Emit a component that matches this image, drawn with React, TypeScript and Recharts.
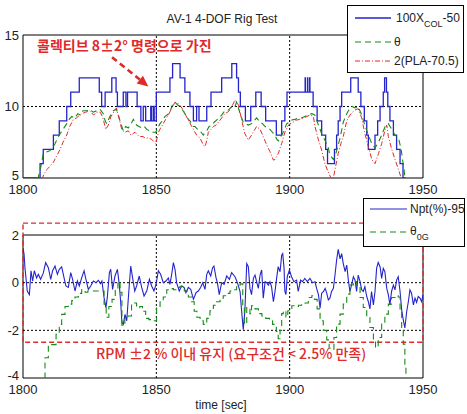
import React from "react";
import { LineChart, Line, XAxis, YAxis, ReferenceLine, ReferenceArea } from "recharts";

type Pt = [number, number];

const timeTicks = [1800, 1850, 1900, 1950];
const upperTicks = [5, 10, 15];
const lowerTicks = [-4, -2, 0, 2];

// 100 X_col - 50 (stepped command)
const collective: Pt[] = [
  [1800, 5], [1806.4, 6], [1807.6, 7], [1811.4, 8], [1813.6, 9], [1816.4, 10], [1817.9, 11],
  [1821.1, 12], [1828.6, 11], [1829.5, 10], [1830.8, 11], [1833.3, 12], [1834.9, 11], [1835.4, 10],
  [1837.6, 11], [1838.6, 10], [1839.2, 11], [1842.8, 10], [1844.2, 9], [1845.1, 10], [1846, 9],
  [1847.9, 10], [1848.2, 9], [1848.9, 10], [1849.2, 9], [1850, 11], [1855.1, 12], [1856.1, 13],
  [1858.9, 12], [1860.7, 11], [1862.6, 10], [1863.9, 9], [1865.1, 10], [1866, 9], [1868.9, 10],
  [1870.5, 11], [1874.5, 12], [1878.3, 13], [1880.1, 12], [1880.8, 11], [1881.5, 10], [1883.4, 9],
  [1885.4, 10], [1887.3, 11], [1889.3, 10], [1891, 9], [1895, 8], [1897, 9], [1898.2, 10],
  [1899, 11], [1905.8, 12], [1905.9, 11], [1906.7, 12], [1906.8, 11], [1907.5, 12], [1907.6, 11],
  [1908.8, 10], [1910.3, 9], [1912, 8], [1913.5, 7], [1914.2, 6], [1916.8, 7], [1917.6, 8],
  [1918.2, 9], [1918.9, 10], [1919.5, 11], [1922.9, 12], [1925.7, 11], [1926.7, 10], [1928, 9],
  [1928.9, 8], [1929.5, 7], [1932, 8], [1933, 9], [1933.9, 10], [1935.1, 11], [1935.6, 12],
  [1936.3, 11], [1936.8, 10], [1937.6, 9], [1938.9, 8], [1940.1, 7], [1941.4, 6], [1942.5, 5],
  [1943.5, 5],
];

const theta: Pt[] = [
  [1805.5, 4.9], [1806.5, 5.6], [1807.6, 6.7], [1808.5, 6.8], [1810, 6.9], [1811, 7.1], [1812, 7.4],
  [1813, 7.8], [1813.9, 8.1], [1815, 8.4], [1816.4, 8.8], [1817.3, 9.1], [1818.3, 9.3], [1819.5, 9.2],
  [1820.5, 9.5], [1821.4, 9.4], [1822.5, 9.7], [1823.9, 9.7], [1825, 9.8], [1826.3, 9.6], [1827.6, 9.7],
  [1828.9, 9.8], [1830.1, 9.5], [1830.8, 9.0], [1831.4, 8.8], [1832.6, 9.3], [1833.9, 9.7], [1835.1, 9.8],
  [1836.4, 9.0], [1837.6, 8.3], [1838.5, 8.6], [1839.5, 8.5], [1840.8, 8.9], [1841.4, 9.1], [1842.6, 8.7],
  [1843.5, 8.6], [1844.5, 8.5], [1845.5, 8.6], [1846.4, 8.4], [1847.4, 8.3], [1848.3, 8.2], [1849.8, 8.2],
  [1850.8, 8.6], [1851.4, 8.8], [1852.6, 9.1], [1853.2, 9.3], [1854, 9.4], [1855.1, 9.6], [1856, 10.1],
  [1857, 10.3], [1858, 10.1], [1858.9, 10.0], [1860, 9.7], [1860.7, 9.5], [1862, 9.1], [1862.6, 9.0],
  [1863.9, 8.6], [1864.5, 8.6], [1865.5, 8.4], [1866.4, 8.3], [1867.6, 8.0], [1868.3, 8.2], [1868.9, 8.3],
  [1869.8, 8.6], [1870.8, 8.7], [1871.7, 8.9], [1872.6, 9.05], [1873.5, 9.2], [1874.5, 9.4], [1875.7, 9.7],
  [1877, 9.75], [1878.3, 10.0], [1879.3, 9.9], [1880.1, 10.3], [1880.6, 10.0], [1881.4, 9.5], [1882.6, 8.9],
  [1883.5, 8.8], [1884.5, 8.7], [1885.7, 8.8], [1886.6, 9.0], [1887.6, 9.2], [1888.9, 8.9], [1889.8, 8.8],
  [1890.8, 8.6], [1891.7, 8.5], [1892.6, 8.4], [1893.5, 8.2], [1894.5, 8.0], [1895.2, 7.7], [1895.7, 7.6],
  [1896.4, 7.8], [1897.6, 8.2], [1898.9, 8.8], [1900, 8.9], [1900.8, 9.05], [1902, 9.1], [1903.2, 9.2],
  [1904.4, 9.2], [1905.7, 9.3], [1907, 9.4], [1908.3, 9.5], [1909.5, 9.4], [1910.2, 9.0], [1910.8, 8.7],
  [1912, 8.1], [1913.2, 7.65], [1914.5, 7.1], [1915.1, 6.6], [1916.4, 6.3], [1917, 6.5], [1917.6, 6.9],
  [1918.9, 7.8], [1920.1, 8.9], [1921.4, 9.5], [1922.6, 9.9], [1923.5, 10.0], [1924.5, 9.9], [1925.7, 10.0],
  [1927, 9.4], [1928.2, 8.7], [1929.5, 8.0], [1930.8, 7.4], [1932, 7.1], [1933.3, 7.5], [1934.5, 8.0],
  [1935.8, 8.6], [1937, 8.8], [1938.3, 8.4], [1939.5, 8.0], [1940.8, 7.8], [1941.8, 7.0], [1942.7, 5.8],
  [1943.3, 5.0], [1943.6, 4.5],
];

// 2(PLA - 70.5)
const pla: Pt[] = [
  [1807, 4.9], [1808, 5.3], [1809, 5.6], [1810, 5.8], [1811.4, 6.1], [1812.5, 6.5], [1813.9, 7.0],
  [1815, 7.5], [1816.4, 8.0], [1817.5, 8.6], [1818.9, 9.1], [1820, 9.2], [1820.7, 9.3], [1822, 9.5],
  [1823.5, 9.6], [1825, 9.7], [1826.5, 9.4], [1827.5, 9.6], [1829, 9.6], [1830, 9.2], [1831, 8.4],
  [1832, 8.7], [1833, 9.3], [1834, 9.6], [1835, 9.9], [1836, 9.2], [1837, 8.4], [1838.2, 8.2],
  [1839.5, 8.3], [1840.5, 8.0], [1842, 8.2], [1843, 8.0], [1843.9, 7.9], [1845, 7.9], [1845.7, 7.8],
  [1847, 7.8], [1848.3, 7.7], [1849.3, 7.5], [1849.8, 7.4], [1850.8, 8.2], [1851.6, 8.5], [1852.6, 8.8],
  [1853.5, 9.1], [1854.5, 9.4], [1855.8, 9.9], [1857, 10.3], [1858.3, 10.2], [1859.2, 10.0], [1860.1, 9.75],
  [1861, 9.4], [1862, 9.05], [1863, 8.7], [1863.9, 8.4], [1865.1, 8.0], [1866.4, 7.8], [1867.6, 7.3],
  [1868.3, 7.2], [1869, 7.7], [1869.5, 8.2], [1870.5, 8.4], [1871.4, 8.6], [1872.4, 8.7], [1873.3, 8.9],
  [1874.5, 9.2], [1875.7, 9.5], [1876.7, 9.6], [1877.6, 9.75], [1878.6, 10.1], [1879.5, 10.45], [1880.8, 10.1],
  [1882, 9.05], [1883.2, 8.1], [1884.5, 7.65], [1885.7, 8.0], [1886.6, 8.3], [1887.6, 8.6], [1888.9, 8.4],
  [1890.1, 7.9], [1891.4, 7.3], [1892.6, 6.85], [1893.9, 6.25], [1894.5, 6.3], [1895.7, 6.7], [1897, 7.4],
  [1898.2, 8.2], [1899.2, 8.6], [1900.1, 8.8], [1901.3, 8.9], [1902.6, 9.05], [1903.8, 9.1], [1905.1, 9.2],
  [1906.4, 9.3], [1907.6, 9.4], [1908.9, 9.3], [1909.5, 8.6], [1910.8, 7.65], [1912, 6.95], [1913.2, 6.0],
  [1914.5, 5.4], [1915.5, 5.0], [1916.3, 4.9], [1917, 5.6], [1918.2, 6.7], [1919.2, 7.4], [1920.1, 7.9],
  [1921.4, 9.0], [1922.6, 9.4], [1923.5, 9.6], [1924.5, 9.75], [1925.7, 9.85], [1927, 9.2], [1928.2, 8.1],
  [1929.5, 7.2], [1930.8, 6.3], [1932, 6.0], [1933.3, 6.7], [1934.5, 7.4], [1935.8, 8.4], [1936.4, 8.7],
  [1937, 7.9], [1938.3, 7.0], [1939.5, 6.3], [1940.8, 5.6], [1941.8, 5.0], [1942.5, 4.5],
];

// Npt(%) - 95
const npt: Pt[] = [
  [1800, 1.45], [1800.4, 1.2], [1800.75, 0.6], [1801.6, -0.35], [1802.4, -0.5], [1803, 0.5], [1803.6, 0.07],
  [1804.25, 0.5], [1805.1, 0.2], [1805.75, 0.35], [1806.6, 0.14], [1807.6, 0.4], [1808.5, 0.84], [1809.5, 0.63],
  [1810.4, 0.14], [1811.1, 0.5], [1812, 0.7], [1812.9, 0.35], [1813.6, 0.56], [1814.5, 0.66], [1815.4, 0.2],
  [1816.1, -0.14], [1817, -0.2], [1817.9, 0.42], [1818.6, 0.14], [1819.5, -0.35], [1820.4, 0.07], [1821.1, -0.14],
  [1822, 0.2], [1822.9, 0.5], [1823.6, 0.14], [1824.5, -0.28], [1825.4, -0.14], [1826.4, 0.07], [1827.4, 0],
  [1828.25, 0.1], [1829.1, -0.04], [1829.6, 0.07], [1830.4, -0.63], [1831.1, -1.05], [1831.6, -0.63], [1832.4, 0.42],
  [1832.9, 0.56], [1833.6, -0.28], [1834.5, 0.28], [1835.4, 0.56], [1836.1, -0.07], [1836.6, -0.77], [1837.1, -1.68],
  [1837.6, -1.75], [1838.25, -1.33], [1838.9, -1.6], [1839.6, -0.5], [1840.4, 0.7], [1841.1, 0.2], [1841.9, -0.35],
  [1842.6, -0.14], [1843.6, 0.28], [1844.5, -0.2], [1845.4, -0.56], [1846.4, -0.35], [1847.4, 0.14], [1848.25, -0.14],
  [1849.1, -0.35], [1849.9, -0.07], [1850.75, 0.5], [1851.6, 0.35], [1852.6, 0], [1853.6, 0.07], [1854.5, 0.2],
  [1855.1, -0.07], [1855.75, 0.35], [1856.4, 0.84], [1857, 0.56], [1857.6, 0], [1858.6, -0.35], [1859.5, -0.14],
  [1860.4, -0.2], [1861.1, -0.42], [1862, -0.2], [1862.9, -0.28], [1863.9, -0.7], [1864.9, -0.42], [1865.75, -0.35],
  [1866.6, -0.2], [1867.4, 0], [1868.25, -0.28], [1868.9, 0.35], [1869.5, 0.5], [1870.4, 0.28], [1871.1, 0.63],
  [1871.6, 0.7], [1872.4, 0.2], [1872.9, 0], [1873.6, -0.5], [1874.5, 0], [1875.4, -0.07], [1876.4, 0.28],
  [1877.4, 0.14], [1878.25, 0.42], [1879.5, 0.25], [1880.4, 0], [1881.4, -0.37], [1882, -1.2], [1882.6, -1.97],
  [1883.2, -1.2], [1883.9, 0.8], [1884.5, 0.67], [1885.1, -0.24], [1885.7, -0.5], [1886.4, 0.18], [1887, 0.32],
  [1887.6, 0.04], [1888.25, -0.24], [1888.9, 0.32], [1889.5, 0.53], [1890.1, -0.65], [1890.8, 0.04], [1891.4, 0],
  [1892, -0.1], [1892.6, 0.04], [1893.2, -0.17], [1893.9, -0.8], [1894.5, -0.37], [1895.1, 0.18], [1895.7, 0.67],
  [1896.4, 0.46], [1897, 1.15], [1897.4, 1.22], [1897.9, 0.6], [1898.2, -0.37], [1898.6, -0.5], [1899.1, 0.25],
  [1899.9, 0.53], [1900.7, 0.25], [1901.6, 0.04], [1902.6, 0.11], [1903.2, -0.37], [1904.1, 0.11], [1904.8, 0.04],
  [1905.7, 0.18], [1906.6, 0.04], [1907.6, 0.18], [1908.6, 0], [1909.5, 0.04], [1910.1, -0.24], [1910.8, -0.5],
  [1911.4, -1.07], [1912, -0.44], [1912.7, -0.37], [1913.3, -0.24], [1913.9, -0.44], [1914.5, -0.72], [1915.1, -0.65],
  [1915.7, -0.37], [1916.4, -0.24], [1917, 0.32], [1917.6, 0.94], [1918.2, 1.4], [1918.9, 1.0], [1919.5, 1.22],
  [1920.1, 0.8], [1920.8, 0.46], [1921.4, 0.74], [1922, 0.11], [1922.6, -0.37], [1923.2, -0.1], [1923.9, 0.25],
  [1924.5, 0.11], [1925.1, -0.37], [1925.7, 0.32], [1926.4, 0.04], [1927, -0.3], [1927.6, -0.37], [1928.2, -0.17],
  [1928.9, -0.58], [1929.5, -0.8], [1930.1, -1.1], [1930.7, -0.37], [1931.4, -0.93], [1932, -0.37], [1932.6, 0.6],
  [1933.2, 0.85], [1933.9, 0.67], [1934.5, 0.18], [1935.1, 0.6], [1935.7, 0.46], [1936.4, -0.24], [1937, -0.5],
  [1937.6, -0.93], [1938.2, -0.37], [1938.9, -0.1], [1939.5, -0.3], [1940.1, 0.11], [1940.7, 0.25], [1941.4, -0.37],
  [1942, -1.14], [1942.6, -1.56], [1943.2, -1.9], [1943.9, -1.2], [1944.5, -0.8], [1945.1, -0.3], [1945.7, -0.44],
  [1946.4, -0.93], [1947, -0.65], [1947.6, -0.83], [1948.2, -0.58], [1948.9, -0.65], [1949.5, -0.8], [1950, -0.5],
];

const theta0g: Pt[] = [
  [1807, -4.3], [1807.4, -4.0], [1808.25, -3.15], [1809.5, -2.6], [1811.4, -2.6], [1812.4, -2.17], [1813.6, -1.75],
  [1814.5, -1.33], [1815.75, -1.0], [1817, -0.9], [1818.3, -0.75], [1819.5, -0.6], [1820.8, -0.45], [1822, -0.3],
  [1823.3, -0.4], [1824.3, -0.35], [1829.6, -0.35], [1830.4, -0.9], [1831.2, -1.45], [1832.2, -1.0], [1833.4, -0.7],
  [1834.6, -0.3], [1835.6, 0.05], [1836.4, -0.4], [1837.1, -1.8], [1838.2, -1.5], [1839.4, -1.4], [1840.7, -0.9],
  [1841.8, -0.85], [1842.6, -1.05], [1843.8, -1.0], [1844.8, -1.2], [1846, -1.5], [1847.2, -1.55], [1848.4, -1.6],
  [1850.1, -1.05], [1851.4, -0.8], [1852.6, -0.6], [1853.9, -0.3], [1855.1, -0.25], [1856.4, -0.3], [1857.6, -0.2],
  [1858.9, -0.15], [1860.5, -0.35], [1862, -0.6], [1863.2, -0.8], [1864.2, -1.2], [1865.2, -1.45], [1866.4, -1.6],
  [1867.6, -1.75], [1868.9, -1.5], [1870.1, -1.18], [1871.4, -0.95], [1872.6, -0.8], [1873.9, -0.65], [1875.1, -0.55],
  [1876.4, -0.45], [1877.6, -0.35], [1878.9, -0.3], [1880.1, -0.15], [1881.4, -0.05], [1882.4, -1.0], [1883, -1.74],
  [1883.9, -1.04], [1885.1, -1.3], [1885.7, -0.97], [1887, -1.1], [1888.3, -1.3], [1889.6, -1.4], [1891, -1.5],
  [1892.4, -1.6], [1893.6, -1.75], [1895, -2.05], [1895.7, -2.35], [1896.4, -2.0], [1897, -1.3], [1897.6, -1.18],
  [1898.6, -1.45], [1899.3, -1.18], [1900.8, -0.97], [1902, -1.0], [1903.3, -0.95], [1904.5, -0.9], [1905.8, -0.85],
  [1907, -0.62], [1908.3, -0.55], [1909.3, -0.7], [1910.3, -1.1], [1911.4, -1.6], [1912.6, -2.0], [1913.9, -2.4],
  [1914.8, -2.75], [1915.8, -2.8], [1916.6, -2.3], [1917.6, -1.74], [1918.9, -1.32], [1920.1, -0.9], [1921.4, -0.48],
  [1922.6, -0.1], [1923.9, 0.05], [1925.1, -0.1], [1926.4, -0.62], [1927.6, -1.04], [1928.9, -1.46], [1930.1, -1.88],
  [1931.4, -2.44], [1932.2, -2.72], [1933.2, -2.3], [1934.5, -1.74], [1935.7, -1.32], [1937, -0.9], [1938.2, -0.62],
  [1939.5, -0.55], [1940.7, -0.6], [1941.4, -1.18], [1942, -1.88], [1942.6, -2.58], [1943.2, -3.42], [1943.6, -4.3],
];

const rows = (pts: Pt[]) => pts.map(([t, v]) => ({ t, v }));

const BLUE = "#2424cc";
const GREEN = "#168a16";
const RED = "#e02a2a";
const FONT = "'Liberation Sans', Arial, Helvetica, sans-serif";
const KFONT = "'Noto Sans CJK KR', 'Noto Sans', sans-serif";

const tickStyle = { fontSize: 13, fill: "#222", fontFamily: FONT };
const gridProps = { stroke: "#000", strokeDasharray: "2 2", strokeWidth: 1 };

// y tick: the lowest label sits a little higher so it clears the time labels
function makeYTick(lowest: number) {
  return function YTick(props: any) {
    const { x, y, payload } = props;
    const lift = payload.value === lowest ? -3 : 0;
    return (
      <text x={x} y={y + lift} dy="0.355em" textAnchor="end" fontSize={13} fill="#222" fontFamily={FONT}>
        {payload.value}
      </text>
    );
  };
}

function Arrow(props: any) {
  const { x1, y1, x2, y2 } = props;
  const a = Math.atan2(y2 - y1, x2 - x1);
  const bx = x2 - 11 * Math.cos(a);
  const by = y2 - 11 * Math.sin(a);
  const px = -Math.sin(a) * 5;
  const py = Math.cos(a) * 5;
  return (
    <g>
      <line x1={x1} y1={y1} x2={bx} y2={by} stroke={RED} strokeWidth={2.6} strokeDasharray="6 4" />
      <polygon points={`${x2},${y2} ${bx + px},${by + py} ${bx - px},${by - py}`} fill={RED} />
    </g>
  );
}

function Upper() {
  return (
    <LineChart width={467} height={200} margin={{ top: 35, right: 44, bottom: 2, left: 0 }}>
      <XAxis type="number" dataKey="t" domain={[1800, 1950]} ticks={timeTicks} interval={0} allowDataOverflow
        axisLine={false} tickLine={false} tickSize={0} tickMargin={7} height={20} tick={tickStyle} />
      <YAxis type="number" domain={[5, 15]} ticks={upperTicks} interval={0} allowDataOverflow
        axisLine={false} tickLine={false} tickSize={0} tickMargin={4} width={23} tick={makeYTick(5)} />
      <ReferenceLine x={1850} {...gridProps} />
      <ReferenceLine x={1900} {...gridProps} />
      <ReferenceLine y={10} {...gridProps} />
      <Line data={rows(collective)} dataKey="v" type="stepAfter" stroke={BLUE} strokeWidth={1.3}
        dot={false} isAnimationActive={false} />
      <Line data={rows(theta)} dataKey="v" type="linear" stroke={GREEN} strokeWidth={1.1}
        strokeDasharray="6 4" dot={false} isAnimationActive={false} />
      <Line data={rows(pla)} dataKey="v" type="linear" stroke={RED} strokeWidth={1}
        strokeDasharray="5 2 1 2" dot={false} isAnimationActive={false} />
      <ReferenceArea x1={1800} x2={1950} y1={5} y2={15} fill="none" stroke="#000" strokeWidth={1} ifOverflow="visible" />
      <ReferenceLine segment={[{ x: 1833.4, y: 13.45 }, { x: 1847, y: 11.4 }]} shape={Arrow} />
    </LineChart>
  );
}

function Lower() {
  return (
    <LineChart width={467} height={214} margin={{ top: 35, right: 44, bottom: 16, left: 0 }}>
      <XAxis type="number" dataKey="t" domain={[1800, 1950]} ticks={timeTicks} interval={0} allowDataOverflow
        axisLine={false} tickLine={false} tickSize={0} tickMargin={7} height={20} tick={tickStyle} />
      <YAxis type="number" domain={[-4, 2]} ticks={lowerTicks} interval={0} allowDataOverflow
        axisLine={false} tickLine={false} tickSize={0} tickMargin={4} width={23} tick={makeYTick(-4)} />
      <ReferenceLine x={1850} {...gridProps} />
      <ReferenceLine x={1900} {...gridProps} />
      <ReferenceLine y={0} {...gridProps} />
      <ReferenceLine y={-2} {...gridProps} />
      <Line data={rows(npt)} dataKey="v" type="linear" stroke={BLUE} strokeWidth={1.1}
        dot={false} isAnimationActive={false} />
      <Line data={rows(theta0g)} dataKey="v" type="stepAfter" stroke={GREEN} strokeWidth={1.1}
        strokeDasharray="6 4" dot={false} isAnimationActive={false} />
      <ReferenceArea x1={1800} x2={1950} y1={-4} y2={2} fill="none" stroke="#000" strokeWidth={1} ifOverflow="visible" />
      <ReferenceArea x1={1800} x2={1950} y1={-2.5} y2={2.5} fill="none" stroke={RED} strokeWidth={1.4}
        strokeDasharray="5 3" ifOverflow="visible" />
    </LineChart>
  );
}

export default function App() {
  return (
    <div style={{ position: "absolute", left: 0, top: 0, width: 467, height: 414, background: "#fff" }}>
      <div style={{ position: "absolute", left: 0, top: 0 }}>
        <Upper />
      </div>
      <div style={{ position: "absolute", left: 0, top: 200 }}>
        <Lower />
      </div>
      <svg width={467} height={414} style={{ position: "absolute", left: 0, top: 0, pointerEvents: "none" }}>
        <text x={222} y={23} textAnchor="middle" fontFamily={FONT} fontSize={12} fill="#222">AV-1 4-DOF Rig Test</text>
        <text x={37} y={51} fontFamily={KFONT} fontSize={14} fontWeight={700} fill={RED}>콜렉티브 8±2° 명령으로 가진</text>
        <text x={96} y={359} fontFamily={KFONT} fontSize={14} fontWeight={500} fill={RED}>RPM ±2 % 이내 유지 (요구조건 &lt; 2.5% 만족)</text>
        <text x={221} y={409} textAnchor="middle" fontFamily={FONT} fontSize={12} fill="#222">time [sec]</text>

        <rect x={347.5} y={5.5} width={116} height={67} fill="#fff" stroke="#000" />
        <line x1={355} y1={18} x2={391} y2={18} stroke={BLUE} strokeWidth={1.3} />
        <text x={396} y={22} fontFamily={FONT} fontSize={12} fill="#222">
          100X<tspan dy={5} fontSize={9}>COL</tspan><tspan dy={-5}>-50</tspan>
        </text>
        <line x1={355} y1={42} x2={391} y2={42} stroke={GREEN} strokeWidth={1.1} strokeDasharray="6 4" />
        <text x={394} y={46} fontFamily={FONT} fontSize={12} fill="#222">θ</text>
        <line x1={355} y1={61} x2={391} y2={61} stroke={RED} strokeWidth={1} strokeDasharray="5 2 1 2" />
        <text x={394} y={65} fontFamily={FONT} fontSize={12} fill="#222">2(PLA-70.5)</text>

        <rect x={363.5} y={198.5} width={101} height={48} fill="#fff" stroke="#000" />
        <line x1={370} y1={209} x2={407} y2={209} stroke={BLUE} strokeWidth={1.1} />
        <text x={410} y={213} fontFamily={FONT} fontSize={12} fill="#222">Npt(%)-95</text>
        <line x1={370} y1={232} x2={407} y2={232} stroke={GREEN} strokeWidth={1.1} strokeDasharray="6 4" />
        <text x={410} y={235} fontFamily={FONT} fontSize={12} fill="#222">
          θ<tspan dy={5} fontSize={9}>0G</tspan>
        </text>
      </svg>
    </div>
  );
}
